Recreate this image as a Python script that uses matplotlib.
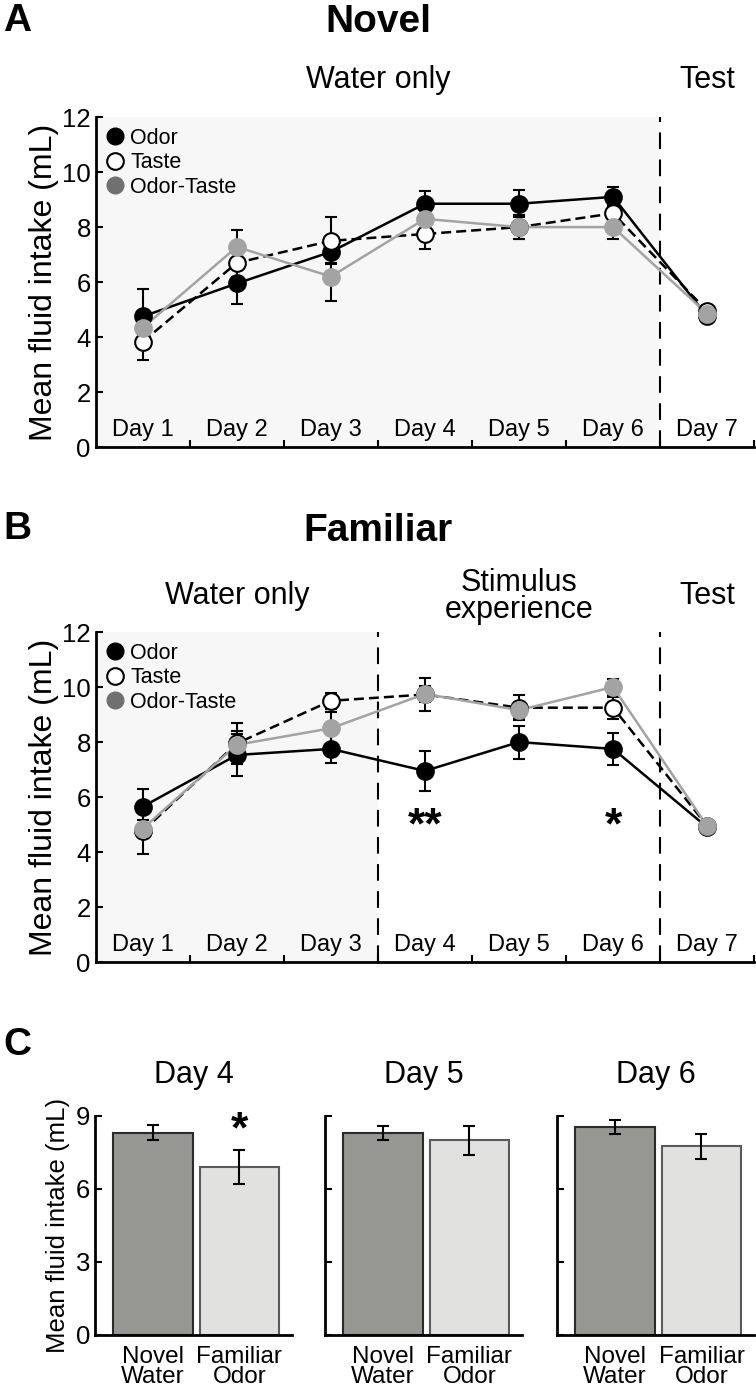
import numpy as np
import matplotlib
matplotlib.use('Agg')
import matplotlib.pyplot as plt
from matplotlib.lines import Line2D

plt.rcParams['font.family'] = ['Liberation Sans', 'DejaVu Sans']

# --- данные ---
days = [1, 2, 3, 4, 5, 6, 7]
day_labels = ['Day 1', 'Day 2', 'Day 3', 'Day 4', 'Day 5', 'Day 6', 'Day 7']

novel_odor = [4.75, 5.95, 7.1, 8.85, 8.85, 9.1, 4.75]
novel_odor_err = [1.0, 0.75, 0.4, 0.45, 0.5, 0.37, 0.15]
novel_taste = [3.83, 6.7, 7.5, 7.75, 8.0, 8.5, 4.95]
novel_taste_err = [0.65, 0.5, 0.85, 0.55, 0.45, 0.3, 0.15]
novel_ot = [4.34, 7.28, 6.2, 8.3, 8.0, 8.0, 4.85]
novel_ot_err = [0.3, 0.6, 0.9, 0.4, 0.45, 0.45, 0.15]

familiar_odor = [5.65, 7.53, 7.75, 6.95, 8.0, 7.75, 4.9]
familiar_odor_err = [0.63, 0.78, 0.53, 0.73, 0.6, 0.57, 0.15]
familiar_taste = [4.76, 7.95, 9.5, 9.73, 9.25, 9.25, 4.95]
familiar_taste_err = [0.83, 0.75, 0.3, 0.6, 0.45, 0.4, 0.15]
familiar_ot = [4.85, 7.9, 8.5, 9.75, 9.16, 10.0, 4.95]
familiar_ot_err = [0.3, 0.5, 0.6, 0.3, 0.3, 0.3, 0.15]

bar_days = ['Day 4', 'Day 5', 'Day 6']
bar_labels = ['Novel\nWater', 'Familiar\nOdor']
novel_water = [8.32, 8.3, 8.55]
novel_water_err = [0.3, 0.3, 0.3]
familiar_odor_bar = [6.91, 8.0, 7.75]
familiar_odor_bar_err = [0.69, 0.6, 0.5]

GRAY = '#a3a3a3'
SHADE = '#f7f7f7'
DASH = (8, 5)


def setup_axes(ax):
    ax.set_xlim(0.5, 7.5)
    ax.set_ylim(0, 12)
    ax.spines[['top', 'right']].set_visible(False)
    ax.spines[['left', 'bottom']].set_linewidth(2)
    ax.set_yticks(range(0, 13, 2))
    ax.set_xticks(np.arange(1.5, 8, 1))
    ax.set_xticklabels([])
    ax.tick_params(axis='both', direction='in', width=1.5, length=5, labelsize=18.5)
    ax.set_ylabel('Mean fluid intake (mL)', fontsize=23, labelpad=2)
    for d, lbl in zip(days, day_labels):
        ax.text(d, 0.4, lbl, ha='center', va='baseline', fontsize=17)


def draw_series(ax, y_odor, e_odor, y_taste, e_taste, y_ot, e_ot):
    err_fmt = dict(fmt='none', ecolor='black', elinewidth=1.5, capsize=4, capthick=1.5, zorder=2)
    ax.errorbar(days, y_odor, yerr=e_odor, **err_fmt)
    ax.errorbar(days, y_taste, yerr=e_taste, **err_fmt)
    ax.errorbar(days, y_ot, yerr=e_ot, **err_fmt)

    ax.plot(days, y_odor, '-', color='black', lw=1.8, zorder=3)
    ax.plot(days, y_taste, '--', color='black', lw=1.8, dashes=(4, 2), zorder=3)
    ax.plot(days, y_ot, '-', color=GRAY, lw=1.8, zorder=3)

    ax.plot(days, y_odor, 'o', ms=12, mfc='black', mec='black', mew=1.5, ls='none', zorder=4)
    ax.plot(days, y_taste, 'o', ms=12, mfc='white', mec='black', mew=1.5, ls='none', zorder=5)
    ax.plot(days, y_ot, 'o', ms=12, mfc=GRAY, mec=GRAY, mew=1.5, ls='none', zorder=6)

    handles = [
        Line2D([], [], marker='o', ls='none', ms=12, mfc='black', mec='black'),
        Line2D([], [], marker='o', ls='none', ms=12, mfc='white', mec='black', mew=1.5),
        Line2D([], [], marker='o', ls='none', ms=12, mfc='#707070', mec='#707070'),
    ]
    ax.legend(handles, ['Odor', 'Taste', 'Odor-Taste'], loc='upper left', frameon=False,
              fontsize=15.5, handlelength=0.8, handletextpad=0.3, labelspacing=0.16,
              borderaxespad=0.3, borderpad=0.2)


fig = plt.figure(figsize=(7.56, 13.91), dpi=100)

# A
ax_a = fig.add_axes([0.1266, 0.6786, 0.871, 0.2372])
setup_axes(ax_a)
ax_a.axvspan(0.5, 6.5, color=SHADE, zorder=0, lw=0)
ax_a.axvline(6.5, color='black', lw=1.5, dashes=DASH, zorder=1)
draw_series(ax_a, novel_odor, novel_odor_err, novel_taste, novel_taste_err, novel_ot, novel_ot_err)
ax_a.text(3.5, 13.35, 'Water only', ha='center', va='center', fontsize=22)
ax_a.text(7.0, 13.35, 'Test', ha='center', va='center', fontsize=22)

# B
ax_b = fig.add_axes([0.1266, 0.3084, 0.871, 0.2372])
setup_axes(ax_b)
ax_b.axvspan(0.5, 3.5, color=SHADE, zorder=0, lw=0)
ax_b.axvline(3.5, color='black', lw=1.5, dashes=DASH, zorder=1)
ax_b.axvline(6.5, color='black', lw=1.5, dashes=DASH, zorder=1)
draw_series(ax_b, familiar_odor, familiar_odor_err, familiar_taste, familiar_taste_err,
            familiar_ot, familiar_ot_err)
ax_b.text(2.0, 13.3, 'Water only', ha='center', va='center', fontsize=22)
ax_b.text(5.0, 13.3, 'Stimulus\nexperience', ha='center', va='center', fontsize=22,
          linespacing=0.85)
ax_b.text(7.0, 13.3, 'Test', ha='center', va='center', fontsize=22)
ax_b.text(4, 4.9, '**', ha='center', va='center', fontsize=32, fontweight='bold')
ax_b.text(6, 4.9, '*', ha='center', va='center', fontsize=32, fontweight='bold')

# C
lefts = [0.1257, 0.430, 0.737]
for i, left in enumerate(lefts):
    ax = fig.add_axes([left, 0.0403, 0.2606, 0.1574])
    x = np.arange(2)
    vals = [novel_water[i], familiar_odor_bar[i]]
    errs = [novel_water_err[i], familiar_odor_bar_err[i]]
    ax.bar(x, vals, width=0.92, color=['#969693', '#e1e2e0'],
           edgecolor=['#2b2b2b', '#5a5a5a'], linewidth=1.5, zorder=2)
    ax.errorbar(x, vals, yerr=errs, fmt='none', ecolor='black', elinewidth=1.5,
                capsize=4, capthick=1.5, zorder=3)
    ax.set_xlim(-0.67, 1.61)
    ax.set_ylim(0, 9)
    ax.set_yticks([0, 3, 6, 9])
    ax.set_xticks(x)
    ax.set_xticklabels(bar_labels, fontsize=17.5, linespacing=0.9)
    ax.spines[['top', 'right']].set_visible(False)
    ax.spines[['left', 'bottom']].set_linewidth(2)
    ax.tick_params(axis='y', direction='in', width=1.5, length=5, labelsize=18.5)
    ax.tick_params(axis='x', length=0, pad=8)
    ax.set_title(bar_days[i], fontsize=22, pad=24)
    if i == 0:
        ax.set_ylabel('Mean fluid intake (mL)', fontsize=18.5, labelpad=4)
        ax.text(1, 8.4, '*', ha='center', va='center', fontsize=32, fontweight='bold')
    else:
        ax.set_yticklabels([])

fig.text(0.5, 0.984, 'Novel', ha='center', va='center', fontsize=28, fontweight='bold')
fig.text(0.5, 0.618, 'Familiar', ha='center', va='center', fontsize=28, fontweight='bold')
fig.text(0.004, 0.985, 'A', ha='left', va='center', fontsize=28, fontweight='bold')
fig.text(0.004, 0.620, 'B', ha='left', va='center', fontsize=28, fontweight='bold')
fig.text(0.004, 0.249, 'C', ha='left', va='center', fontsize=28, fontweight='bold')

fig.savefig('out.png', dpi=100)
